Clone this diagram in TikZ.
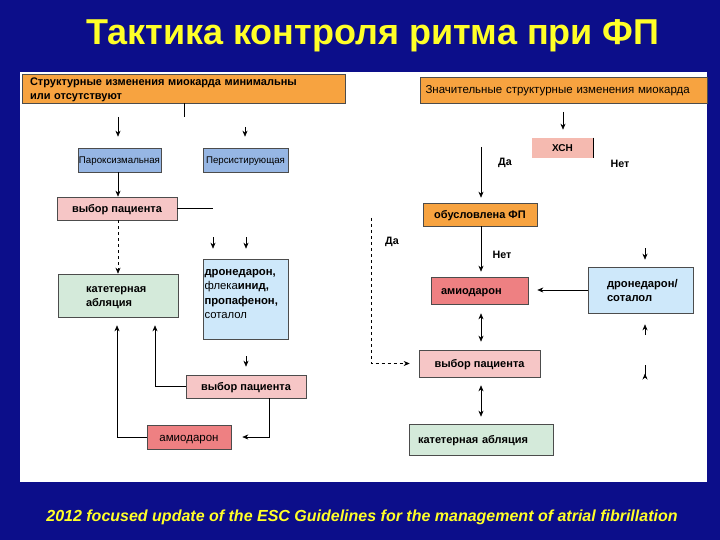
\documentclass[tikz,border=0pt]{standalone}
\usepackage{fontspec}
\setmainfont{Liberation Sans}
\usetikzlibrary{arrows.meta, positioning, calc}
\definecolor{slideBlue}{RGB}{12, 14, 138}
\definecolor{titleYellow}{RGB}{255, 255, 40}
\definecolor{boxOrange}{RGB}{247, 163, 64}
\definecolor{boxSteel}{RGB}{150, 182, 228}
\definecolor{boxPink}{RGB}{246, 198, 198}
\definecolor{boxRed}{RGB}{238, 128, 130}
\definecolor{boxGreen}{RGB}{212, 234, 218}
\definecolor{boxSky}{RGB}{206, 232, 250}
\definecolor{boxRose}{RGB}{245, 186, 176}

\begin{document}
\begin{tikzpicture}[x=1pt, y=-1pt,
    box/.style={draw=black!70, line width=0.6pt, inner sep=0pt, font=\fontsize{11}{14}\selectfont\bfseries},
    line box/.style={box, text height=9.5pt, text depth=1.5pt},
    thin box/.style={line box, font=\fontsize{9.7}{12}\selectfont},
    arr/.style={-{Stealth[length=6pt, width=5pt]}, line width=0.6pt},
    twoway/.style={{Stealth[length=6pt, width=5pt]}-{Stealth[length=6pt, width=5pt]}, line width=0.6pt},
    lbl/.style={font=\fontsize{10.7}{12}\selectfont\bfseries, inner sep=0pt}]
    % slide
    \fill[slideBlue] (0,0) rectangle (720,540);
    \fill[white] (20,72) rectangle (707,482);
    \useasboundingbox (0,0) rectangle (720,540);
    \node[font=\fontsize{36}{40}\selectfont\bfseries, text=titleYellow] (title) at (373,36) {Тактика контроля ритма при ФП};
    \node[font=\fontsize{16}{18}\selectfont\bfseries\itshape, text=titleYellow] (source) at (362,517)
        {2012 focused update of the ESC Guidelines for the management of atrial fibrillation};

    % left branch
    \node[box, fill=boxOrange, minimum width=323pt, minimum height=29pt, text width=307pt, align=left] (topL) at (183.5,88.5)
        {\rule{0pt}{11pt}Структурные изменения миокарда минимальны\\или отсутствуют};
    \node[thin box, fill=boxSteel, minimum width=83pt, minimum height=24pt] (parox) at (119.5,160) {Пароксизмальная};
    \node[thin box, fill=boxSteel, minimum width=85pt, minimum height=24pt] (persist) at (245.5,160) {Персистирующая};
    \node[line box, fill=boxPink, minimum width=120pt, minimum height=23pt] (choiceL) at (117,208.5) {выбор пациента};
    \node[box, fill=boxGreen, minimum width=120pt, minimum height=43pt, text width=64pt, align=left] (ablL) at (118,295.5)
        {\rule{0pt}{11pt}катетерная\\абляция};
    \node[box, fill=boxSky, minimum width=85pt, minimum height=80pt, font=\fontsize{11.3}{14.5}\selectfont] (drugsL) at (245.5,299)
        {\parbox[c][60pt][t]{82pt}{\raggedright\textbf{дронедарон,}\\флека\textbf{инид,}\\\textbf{пропафенон,}\\соталол}};
    \node[line box, fill=boxPink, minimum width=120pt, minimum height=23pt] (choiceL2) at (246,386.5) {выбор пациента};
    \node[thin box, fill=boxRed, minimum width=84pt, minimum height=24pt, font=\fontsize{11.5}{13}\selectfont] (amioL) at (189,437) {амиодарон};

    \coordinate (stemL) at (184,117);
    \coordinate (paroxIn) at (118,117);
    \coordinate (persistIn) at (245,127);
    \coordinate (choiceLOut) at (213,208.5);
    \coordinate (drugsInA) at (213,237);
    \coordinate (drugsInB) at (246,237);
    \coordinate (choiceL2In) at (246,356);

    \draw[line width=0.6pt] (stemL |- topL.south) -- (stemL);
    \draw[arr, shorten >=11pt] (paroxIn) -- (paroxIn |- parox.north);
    \draw[arr, shorten >=11pt] (persistIn) -- (persistIn |- persist.north);
    \draw[arr] (paroxIn |- parox.south) -- (paroxIn |- choiceL.north);
    \draw[line width=0.6pt] (choiceL.east) -- (choiceLOut);
    \draw[arr, dashed] (paroxIn |- choiceL.south) -- (paroxIn |- ablL.north);
    \draw[arr, shorten >=10pt] (drugsInA) -- (drugsInA |- drugsL.north);
    \draw[arr, shorten >=10pt] (drugsInB) -- (drugsInB |- drugsL.north);
    \draw[arr, shorten >=8pt] (choiceL2In) -- (choiceL2In |- choiceL2.north);
    \draw[arr, shorten >=8pt] (choiceL2.west) -| ($(ablL.south)+(37,0)$);
    \draw[arr, shorten >=11pt] ($(choiceL2.south)+(23,0)$) |- (amioL.east);
    \draw[arr, shorten >=8pt] (amioL.west) -| ($(ablL.south)+(-1,0)$);

    % right branch
    \node[thin box, fill=boxOrange, minimum width=287pt, minimum height=26pt, text width=276pt, align=left,
        font=\fontsize{11.5}{13}\selectfont] (topR) at (563.5,90) {Значительные структурные изменения миокарда};
    \node[line box, draw=none, fill=boxRose, minimum width=61pt, minimum height=20pt, font=\fontsize{10}{12}\selectfont\bfseries] (xsn) at (562.5,148) {ХСН};
    \node[line box, fill=boxOrange, minimum width=114pt, minimum height=23pt] (afcause) at (480,214.5) {обусловлена ФП};
    \node[line box, fill=boxRed, minimum width=97pt, minimum height=27pt, text width=77pt, align=left] (amioR) at (479.5,290.5) {амиодарон};
    \node[line box, fill=boxPink, minimum width=121pt, minimum height=27pt] (choiceR) at (479.5,363.5) {выбор пациента};
    \node[line box, fill=boxGreen, minimum width=144pt, minimum height=31pt, text width=126pt, align=left] (ablR) at (481,439.5) {катетерная абляция};
    \node[box, fill=boxSky, minimum width=105pt, minimum height=46pt, text width=67pt, align=left,
        font=\fontsize{11.2}{14}\selectfont\bfseries] (dronR) at (640.5,290) {дронедарон/\\соталол};

    \coordinate (xsnIn) at (563,112);
    \coordinate (yesTop) at (481,147);
    \coordinate (yesLeft) at (371,218);
    \coordinate (dronIn) at (645,248);
    \coordinate (dronOut) at (645,335);
    \coordinate (choiceRIn) at (645,365);

    \draw[arr, shorten >=8pt] (xsnIn) -- (xsnIn |- xsn.north);
    \draw[line width=0.8pt] (xsn.north east) -- (xsn.south east);
    \node[lbl] (yesA) at (505,163) {Да};
    \node[lbl] (noA) at (620,164) {Нет};
    \draw[arr, shorten >=5pt] (yesTop) -- (yesTop |- afcause.north);
    \draw[arr, dashed, shorten >=9pt] (yesLeft) |- (choiceR.west);
    \node[lbl] (yesB) at (392,242) {Да};
    \draw[arr, shorten >=5pt] (yesTop |- afcause.south) -- (yesTop |- amioR.north);
    \node[lbl] (noB) at (502,255) {Нет};
    \draw[twoway, shorten <=9pt, shorten >=8pt] (yesTop |- amioR.south) -- (yesTop |- choiceR.north);
    \draw[twoway, shorten <=8pt, shorten >=7pt] (yesTop |- choiceR.south) -- (yesTop |- ablR.north);
    \draw[arr, shorten >=9pt] (dronR.west) -- (dronR.west -| amioR.east);
    \draw[arr, shorten >=7pt] (dronIn) -- (dronIn |- dronR.north);
    \draw[arr, shorten >=11pt] (dronOut) -- (dronOut |- dronR.south);
    \draw[arr, shorten >=10pt] (choiceRIn) -- (choiceRIn |- choiceR.east);
\end{tikzpicture}
\end{document}
